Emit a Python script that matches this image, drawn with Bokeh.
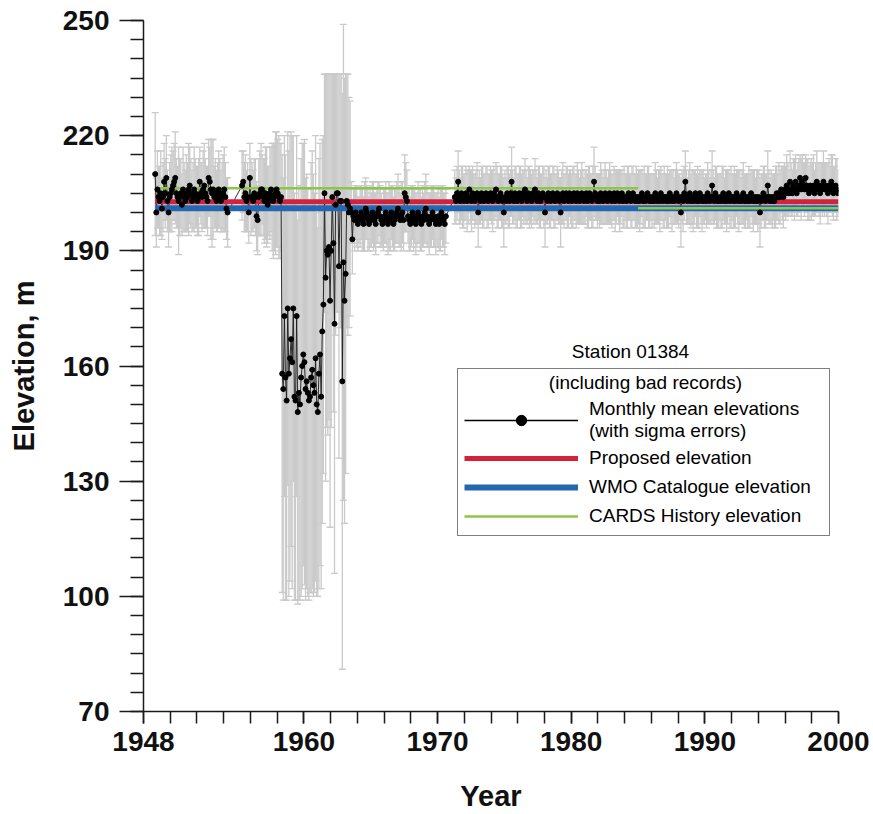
from bokeh.plotting import figure
from bokeh.models import (ColumnDataSource, Whisker, TeeHead, Range1d, FixedTicker,
                          Legend, LegendItem, Label)
from bokeh.embed import file_html
from bokeh.resources import INLINE

# ---------------- data (monthly mean elevations, m, and sigma errors) ----------------
# Segment A: Nov 1948 - Apr 1954
a_start = (1948, 11)
a_values = [210, 200, 206, 204, 203, 205, 201, 204, 208, 205, 209, 203,
            200, 204, 205, 206, 207, 208, 209, 205, 204, 203, 204, 205,
            202, 206, 204, 203, 205, 204, 206, 207, 205, 203, 204, 206,
            205, 204, 203, 204, 208, 205, 204, 206, 207, 205, 204, 203,
            209, 208, 206, 205, 206, 204, 205, 203, 204, 206, 205, 203,
            204, 205, 206, 204, 201, 200]
a_sigma = [16, 9, 10, 8, 9, 11, 8, 9, 10, 9, 11, 8,
           9, 9, 10, 11, 9, 10, 12, 9, 8, 14, 10, 9,
           8, 11, 9, 8, 10, 9, 12, 10, 9, 8, 9, 11,
           9, 8, 9, 10, 9, 8, 9, 10, 11, 9, 8, 9,
           10, 9, 13, 14, 13, 8, 9, 8, 9, 10, 9, 8,
           9, 10, 11, 9, 8, 9]

# Segment B: May 1955 - Apr 1958
b_start = (1955, 5)
b_values = [207, 208, 204, 205, 203, 204, 200, 209, 204, 204, 203, 205,
            204, 199, 198, 204, 205, 206, 206, 204, 203, 205, 204, 202,
            203, 205, 206, 204, 203, 204, 205, 206, 205, 204, 203, 204]
b_sigma = [9, 8, 9, 10, 8, 9, 8, 9, 10, 9, 8, 9,
           10, 9, 9, 10, 11, 12, 9, 10, 11, 12, 13, 10,
           9, 12, 11, 14, 15, 14, 16, 15, 14, 16, 15, 14]

# Segment C (bad records): May 1958 - Jun 1963
c_start = (1958, 5)
c_values = [158, 154, 173, 157, 151, 175, 158, 162, 167, 161, 175, 152,
            151, 173, 148, 153, 150, 157, 160, 163, 161, 154, 156, 153,
            151, 152, 157, 159, 155, 153, 162, 150, 148, 158, 163, 152,
            169, 176,
            205, 183, 190, 189, 191, 177, 190, 204, 192, 171, 202, 205,
            205, 186, 203, 203, 156, 187, 177, 184, 203, 202, 200, 201]
c_sigma = [57, 55, 47, 58, 52, 46, 58, 58, 54, 59, 45, 53,
           52, 47, 50, 54, 51, 57, 58, 55, 58, 55, 54, 53,
           52, 51, 56, 57, 55, 52, 58, 50, 48, 56, 55, 50,
           50, 44,
           31, 53, 46, 47, 45, 59, 46, 32, 44, 65, 34, 31,
           31, 50, 33, 33, 75, 62, 58, 52, 33, 34, 30, 28]

# Segment D: Jul 1963 - Aug 1970
d_start = (1963, 7)
d_values = [200, 193, 199, 198, 200, 199,
            197, 198, 199, 200, 198, 197, 199, 201, 200, 198, 197, 199,
            198, 200, 199, 198, 197, 199, 200, 201, 199, 198, 197, 198,
            199, 200, 198, 197, 199, 198, 200, 199, 197, 198, 199, 200,
            201, 199, 198, 199, 200, 198, 205, 204, 203, 199, 198, 197,
            199, 200, 198, 199, 197, 198, 200, 199, 198, 197, 199, 198,
            200, 201, 199, 198, 197, 198, 199, 200, 199, 198, 197, 198,
            199, 197, 198, 200, 199, 198, 197, 199]
d_sigma = [8, 9, 7, 8, 7, 8,
           7, 6, 8, 7, 8, 7, 9, 8, 7, 8, 7, 8,
           7, 8, 9, 7, 8, 7, 8, 7, 8, 7, 6, 8,
           7, 8, 7, 8, 9, 8, 7, 8, 7, 8, 7, 8,
           9, 8, 7, 9, 8, 8, 10, 9, 8, 7, 8, 7,
           8, 7, 8, 7, 8, 7, 8, 7, 8, 7, 8, 7,
           8, 9, 8, 7, 8, 7, 8, 7, 8, 7, 8, 7,
           8, 7, 8, 7, 8, 7, 8, 7]

# Segment E: Apr 1971 - Dec 1999
e_start = (1971, 4)
e_values = [204, 203, 205, 208, 204, 203, 205, 204, 203,                 # 1971
            204, 205, 203, 204, 206, 204, 203, 205, 204, 203, 204, 205,  # 1972
            200, 204, 203, 205, 204, 203, 204, 205, 204, 203, 204, 205,  # 1973
            204, 203, 205, 204, 206, 204, 203, 204, 205, 204, 203, 200,  # 1974
            204, 203, 205, 204, 203, 205, 208, 204, 203, 205, 204, 203,  # 1975
            204, 205, 204, 203, 205, 204, 206, 204, 203, 205, 204, 204,  # 1976
            203, 205, 204, 206, 204, 203, 205, 204, 203, 204, 205, 204,  # 1977
            200, 204, 203, 205, 204, 203, 204, 205, 204, 203, 204, 205,  # 1978
            204, 203, 200, 204, 205, 203, 204, 205, 204, 203, 205, 204,  # 1979
            203, 204, 205, 204, 203, 205, 204, 203, 204, 205, 204, 203,  # 1980
            204, 205, 203, 204, 205, 204, 203, 204, 208, 205, 204, 203,  # 1981
            204, 203, 205, 204, 203, 204, 205, 204, 203, 204, 205, 204,  # 1982
            203, 204, 205, 203, 204, 205, 204, 203, 204, 205, 203, 204,  # 1983
            204, 203, 204, 205, 204, 203, 204, 205, 204, 203, 204, 203,  # 1984
            204, 203, 204, 205, 203, 204, 203, 204, 205, 204, 203, 204,  # 1985
            203, 204, 203, 205, 204, 203, 204, 203, 205, 204, 203, 204,  # 1986
            204, 203, 204, 203, 205, 204, 203, 204, 203, 204, 205, 204,  # 1987
            203, 204, 200, 204, 203, 205, 208, 204, 203, 204, 205, 203,  # 1988
            204, 203, 204, 205, 203, 204, 203, 205, 204, 203, 204, 203,  # 1989
            204, 203, 205, 204, 203, 204, 207, 204, 203, 205, 204, 203,  # 1990
            203, 204, 203, 204, 205, 203, 204, 203, 204, 205, 203, 204,  # 1991
            204, 203, 204, 203, 205, 204, 203, 204, 203, 204, 205, 203,  # 1992
            203, 204, 203, 204, 203, 205, 204, 203, 204, 203, 204, 203,  # 1993
            204, 200, 203, 204, 205, 204, 203, 204, 207, 204, 203, 204,  # 1994
            203, 204, 203, 204, 205, 204, 205, 204, 206, 205, 204, 206,  # 1995
            205, 207, 206, 205, 208, 206, 205, 207, 206, 208, 205, 206,  # 1996
            207, 209, 206, 208, 207, 206, 209, 207, 206, 205, 207, 206,  # 1997
            206, 207, 205, 206, 208, 207, 206, 205, 207, 206, 208, 206,  # 1998
            207, 206, 205, 207, 206, 208, 207, 205, 206, 207, 206, 205]  # 1999
e_sigma = [7, 6, 7, 8, 7, 6, 7, 8, 7,
           6, 7, 8, 7, 6, 7, 8, 7, 6, 7, 7, 8,
           9, 7, 6, 7, 8, 7, 6, 7, 8, 7, 6, 7,
           7, 8, 7, 6, 7, 8, 7, 6, 7, 8, 7, 9,
           7, 6, 7, 8, 7, 6, 9, 7, 6, 7, 8, 7,
           6, 7, 8, 7, 6, 7, 8, 7, 6, 7, 8, 7,
           7, 6, 7, 8, 7, 6, 7, 8, 7, 6, 7, 8,
           9, 7, 6, 7, 8, 7, 6, 7, 8, 7, 6, 7,
           7, 6, 9, 7, 8, 7, 6, 7, 8, 7, 6, 7,
           7, 8, 7, 6, 7, 8, 7, 6, 7, 8, 7, 6,
           7, 6, 7, 8, 7, 6, 7, 8, 9, 7, 6, 7,
           6, 7, 8, 7, 6, 7, 8, 7, 6, 7, 8, 7,
           7, 6, 7, 8, 7, 6, 7, 8, 7, 6, 7, 8,
           6, 7, 8, 7, 6, 7, 8, 7, 6, 7, 8, 7,
           7, 8, 7, 6, 7, 8, 7, 6, 7, 8, 7, 6,
           7, 6, 7, 8, 7, 6, 7, 8, 7, 6, 7, 8,
           6, 7, 8, 7, 6, 7, 8, 7, 6, 7, 8, 7,
           7, 6, 9, 7, 8, 7, 8, 7, 6, 7, 8, 7,
           7, 8, 7, 6, 7, 8, 7, 6, 7, 8, 7, 6,
           6, 7, 8, 7, 6, 7, 9, 7, 6, 7, 8, 7,
           7, 6, 7, 8, 7, 6, 7, 8, 7, 6, 7, 8,
           6, 7, 8, 7, 6, 7, 8, 7, 6, 7, 8, 7,
           7, 6, 7, 8, 7, 6, 7, 8, 7, 6, 7, 8,
           7, 9, 7, 6, 7, 8, 7, 6, 9, 7, 6, 7,
           7, 6, 7, 8, 7, 6, 8, 7, 6, 7, 8, 7,
           7, 8, 7, 6, 8, 7, 6, 7, 8, 7, 6, 7,
           7, 6, 8, 7, 6, 7, 6, 7, 8, 7, 6, 8,
           7, 8, 6, 7, 8, 6, 7, 8, 6, 7, 8, 7,
           6, 7, 8, 7, 6, 7, 8, 7, 6, 7, 8, 6]

# Reference elevations
proposed_x = [1948.875, 2000.0]
proposed_y = [202.8, 202.8]
wmo_x = [1948.875, 2000.0]
wmo_y = [201.1, 201.1]
cards_xs = [[1948.875, 1985.0], [1985.0, 2000.0]]
cards_ys = [[206.3, 206.3], [201.1, 201.1]]

x_ticks = [1948, 1960, 1970, 1980, 1990, 2000]
y_ticks = [70, 100, 130, 160, 190, 220, 250]

# ---------------- build series ----------------
segments = [(a_start, a_values, a_sigma), (b_start, b_values, b_sigma),
            (c_start, c_values, c_sigma), (d_start, d_values, d_sigma),
            (e_start, e_values, e_sigma)]
xs, ys, sg = [], [], []
for (yr, mo), vals, sig in segments:
    for i, (v, s) in enumerate(zip(vals, sig)):
        xs.append(yr + (mo - 1 + i + 0.5) / 12.0)
        ys.append(v)
        sg.append(s)

src = ColumnDataSource(dict(x=xs, y=ys,
                            upper=[v + s for v, s in zip(ys, sg)],
                            lower=[v - s for v, s in zip(ys, sg)]))

FONT = "Liberation Sans"

p = figure(width=873, height=814, x_range=Range1d(1948, 2000), y_range=Range1d(70, 250),
           output_backend="svg", toolbar_location=None,
           min_border_left=143, min_border_right=35, min_border_top=20, min_border_bottom=100)
p.background_fill_color = "white"
p.border_fill_color = "white"
p.outline_line_color = None
p.xgrid.visible = False
p.ygrid.visible = False

GREY = "#cacaca"
wh = Whisker(source=src, base="x", upper="upper", lower="lower", dimension="height",
             line_color=GREY, line_width=1.3,
             upper_head=TeeHead(size=7, line_color=GREY, line_width=1.3),
             lower_head=TeeHead(size=7, line_color=GREY, line_width=1.3))
p.add_layout(wh)

p.line("x", "y", source=src, line_color="#1a1a1a", line_width=0.9)

RED = "#d2223c"
BLUE = "#2367b1"
GREEN = "#8cc548"
r_wmo = p.line(wmo_x, wmo_y, line_color=BLUE, line_width=6)
r_prop = p.line(proposed_x, proposed_y, line_color=RED, line_width=5)
r_cards = p.multi_line(cards_xs, cards_ys, line_color=GREEN, line_width=2.5)

p.scatter("x", "y", source=src, size=5, color="black")

# legend glyph helpers (no visible data)
nan = float("nan")
leg_line = p.line([nan, nan], [nan, nan], line_color="black", line_width=1.3)
leg_dot = p.scatter([nan], [nan], size=14, color="black")

# text drawn inside the legend box (legend background is transparent)
p.add_layout(Label(x=502, y=329, x_units="screen", y_units="screen", text="(including bad records)",
                   text_align="center", text_baseline="middle", text_font=FONT,
                   text_font_size="19px", text_color="black"))
p.add_layout(Label(x=487, y=360, x_units="screen", y_units="screen", text="Station 01384",
                   text_align="center", text_baseline="middle", text_font=FONT,
                   text_font_size="19px", text_color="black"))

legend = Legend(items=[
    LegendItem(label="Monthly mean elevations\n(with sigma errors)", renderers=[leg_line, leg_dot]),
    LegendItem(label="Proposed elevation", renderers=[r_prop]),
    LegendItem(label="WMO Catalogue elevation", renderers=[r_wmo]),
    LegendItem(label="CARDS History elevation", renderers=[r_cards]),
], location=(314, 175), title=" ")
legend.title_text_font_size = "13px"
legend.title_standoff = 8
legend.label_text_font = FONT
legend.label_text_font_size = "19px"
legend.label_text_color = "black"
legend.glyph_width = 114
legend.glyph_height = 26
legend.label_height = 26
legend.label_width = 234
legend.label_standoff = 11
legend.spacing = 3
legend.padding = 6
legend.margin = 0
legend.border_line_color = "black"
legend.border_line_width = 1.5
legend.background_fill_alpha = 0.0
p.add_layout(legend)

# axes
for ax in (p.xaxis[0], p.yaxis[0]):
    ax.axis_line_color = "#1a1a1a"
    ax.axis_line_width = 1.5
    ax.major_tick_line_color = "#1a1a1a"
    ax.minor_tick_line_color = "#1a1a1a"
    ax.major_tick_line_width = 1.5
    ax.minor_tick_line_width = 1.5
    ax.major_tick_in = 0
    ax.minor_tick_in = 0
    ax.major_label_text_font = FONT
    ax.major_label_text_font_style = "bold"
    ax.major_label_text_font_size = "28px"
    ax.major_label_text_color = "#111111"
    ax.axis_label_text_font = FONT
    ax.axis_label_text_font_style = "bold"
    ax.axis_label_text_font_size = "29px"
    ax.axis_label_text_color = "#111111"

p.xaxis.ticker = FixedTicker(ticks=x_ticks, minor_ticks=list(range(1948, 2001, 2)))
p.yaxis.ticker = FixedTicker(ticks=y_ticks, minor_ticks=list(range(70, 251, 5)))
p.xaxis.axis_label = "Year"
p.yaxis.axis_label = "Elevation, m"
p.xaxis.major_tick_out = 12
p.xaxis.minor_tick_out = 12
p.yaxis.major_tick_out = 24
p.yaxis.minor_tick_out = 13
p.xaxis.major_label_standoff = 8
p.yaxis.major_label_standoff = 10
p.xaxis.axis_label_standoff = 26
p.yaxis.axis_label_standoff = 20

open("out.html", "w").write(file_html(p, INLINE))
